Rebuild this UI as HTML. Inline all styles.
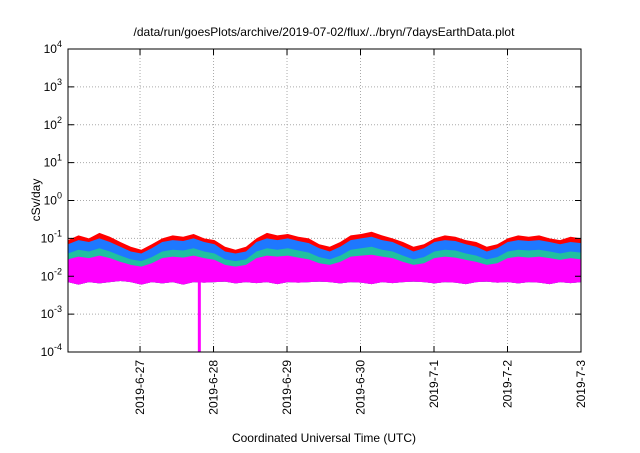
<!DOCTYPE html>
<html><head><meta charset="utf-8"><style>
body{margin:0;background:#fff;font-family:"Liberation Sans",sans-serif}
</style></head><body>
<svg id="c" width="640" height="448" xmlns="http://www.w3.org/2000/svg" font-family="Liberation Sans, sans-serif" font-size="12">
<text x="324" y="36" text-anchor="middle" font-size="12">/data/run/goesPlots/archive/2019-07-02/flux/../bryn/7daysEarthData.plot</text>
<text x="324" y="442" text-anchor="middle">Coordinated Universal Time (UTC)</text>
<text transform="translate(40,200) rotate(-90)" text-anchor="middle">cSv/day</text>
<g id="grid"></g><g id="marks"></g><g id="axes"></g>
</svg>
<script>
const xTickLabels=["2019-6-27","2019-6-28","2019-6-29","2019-6-30","2019-7-1","2019-7-2","2019-7-3"];
const xTickDays=[1,2,3,4,5,6,7];
const yTickExps=[-4,-3,-2,-1,0,1,2,3,4];
const red=[0.09,0.12,0.1,0.14,0.11,0.08,0.06,0.05,0.07,0.1,0.12,0.11,0.13,0.1,0.09,0.06,0.05,0.06,0.1,0.14,0.12,0.13,0.11,0.1,0.07,0.06,0.08,0.12,0.13,0.15,0.12,0.1,0.08,0.06,0.07,0.1,0.12,0.11,0.09,0.08,0.06,0.07,0.1,0.12,0.11,0.12,0.1,0.09,0.11,0.1];
const blue=[0.07,0.09,0.08,0.1,0.08,0.06,0.045,0.04,0.055,0.08,0.09,0.085,0.1,0.08,0.07,0.045,0.04,0.045,0.08,0.1,0.09,0.1,0.085,0.075,0.055,0.045,0.06,0.09,0.1,0.11,0.09,0.08,0.06,0.045,0.055,0.08,0.09,0.085,0.07,0.06,0.045,0.055,0.08,0.09,0.085,0.09,0.08,0.07,0.08,0.075];
const teal=[0.04,0.05,0.045,0.055,0.045,0.035,0.028,0.025,0.032,0.045,0.05,0.048,0.055,0.045,0.04,0.028,0.025,0.028,0.045,0.055,0.05,0.055,0.048,0.042,0.032,0.028,0.035,0.05,0.055,0.06,0.05,0.045,0.035,0.028,0.032,0.045,0.05,0.048,0.04,0.035,0.028,0.032,0.045,0.05,0.048,0.05,0.045,0.04,0.045,0.042];
const magTop=[0.028,0.033,0.03,0.035,0.03,0.024,0.02,0.018,0.022,0.03,0.033,0.031,0.035,0.03,0.027,0.02,0.018,0.02,0.03,0.035,0.033,0.035,0.031,0.028,0.022,0.02,0.024,0.033,0.035,0.037,0.033,0.03,0.024,0.02,0.022,0.03,0.033,0.031,0.027,0.024,0.02,0.022,0.03,0.033,0.031,0.033,0.03,0.027,0.03,0.028];
const magBot=[0.007,0.006,0.007,0.0065,0.007,0.0075,0.007,0.006,0.007,0.0065,0.007,0.006,0.007,0.0068,0.007,0.0072,0.0065,0.007,0.0066,0.007,0.0062,0.007,0.0068,0.007,0.0072,0.007,0.0065,0.007,0.0068,0.0062,0.007,0.0066,0.007,0.0072,0.007,0.0065,0.007,0.0068,0.0062,0.007,0.0072,0.0068,0.007,0.0065,0.007,0.0068,0.0062,0.007,0.0066,0.007];
const spikeDay=1.807, spikeVal=1e-4;
const L=68,R=581,T=49,B=352,d0=0.02,d1=7;
const X=d=>L+(d-d0)/(d1-d0)*(R-L);
const Y=v=>B-(Math.log10(v)+4)/8*(B-T);
const NS="http://www.w3.org/2000/svg";
function mk(p,t,a){const e=document.createElementNS(NS,t);for(const k in a)e.setAttribute(k,a[k]);p.appendChild(e);return e;}
const grid=document.getElementById('grid'),marks=document.getElementById('marks'),axes=document.getElementById('axes');
const n=red.length, dd=i=>d0+(d1-d0)*i/(n-1);
function band(top,bot,col,name){
  let pts=top.map((v,i)=>X(dd(i))+","+Y(v));
  for(let i=n-1;i>=0;i--)pts.push(X(dd(i))+","+Y(bot[i]));
  const e=mk(marks,'polygon',{points:pts.join(' '),fill:col});
  
  
}
band(red,magBot,'#ff0000','series-red');
band(blue,magBot,'#1e78ff','series-blue');
band(teal,magBot,'#20c0a0','series-teal');
band(magTop,magBot,'#ff00ff','series-magenta');
const sp=mk(marks,'rect',{x:X(spikeDay)-1.5,y:Y(0.007),width:3,height:Y(spikeVal)-Y(0.007),fill:'#ff00ff'});


yTickExps.forEach(e=>{
  const y=Y(Math.pow(10,e));
  if(e>-4&&e<4){const g=mk(grid,'line',{x1:L,x2:R,y1:y,y2:y,stroke:'#aaa','stroke-dasharray':'1,2'});
  }
  mk(axes,'line',{x1:L,x2:L+6,y1:y,y2:y,stroke:'#000'});
  mk(axes,'line',{x1:R,x2:R-6,y1:y,y2:y,stroke:'#000'});
  const t=mk(axes,'text',{x:L-6,y:y+4,'text-anchor':'end','font-size':'12'});
  
  t.textContent='10';const s=mk(t,'tspan',{dy:'-6','font-size':'9'});s.textContent=e;
});
xTickDays.forEach((d,i)=>{
  const x=X(d);
  if(d<7){const g=mk(grid,'line',{x1:x,x2:x,y1:T,y2:B,stroke:'#aaa','stroke-dasharray':'1,2'});
  }
  mk(axes,'line',{x1:x,x2:x,y1:B,y2:B-6,stroke:'#000'});
  mk(axes,'line',{x1:x,x2:x,y1:T,y2:T+6,stroke:'#000'});
  const t=mk(axes,'text',{x:0,y:0,'text-anchor':'end',transform:`translate(${x+4},${B+8}) rotate(-90)`});
  
  t.textContent=xTickLabels[i];
});
const f=mk(axes,'rect',{x:L,y:T,width:R-L,height:B-T,fill:'none',stroke:'#000'});

</script>
</body></html>
